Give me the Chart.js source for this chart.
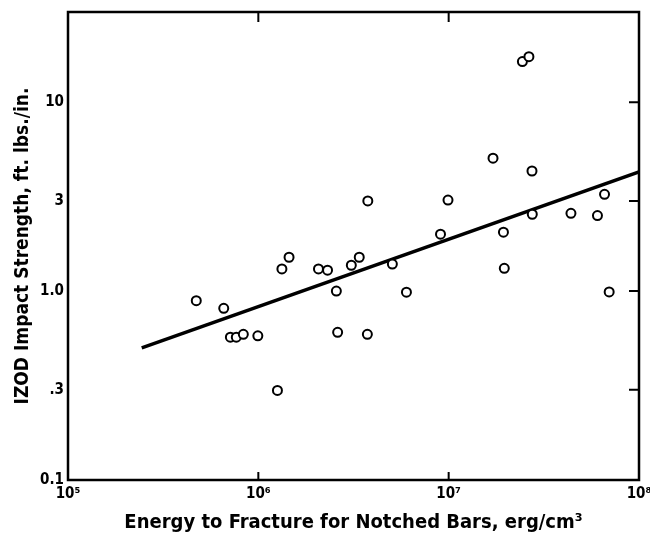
<!DOCTYPE html>
<html>
<head>
<meta charset="utf-8">
<script src="https://cdn.jsdelivr.net/npm/chart.js@4/dist/chart.umd.min.js"></script>
<style>
  html, body { margin: 0; padding: 0; background: #fff; }
  #wrap { width: 650px; height: 541px; position: relative; }
</style>
</head>
<body>
<div id="wrap"><canvas id="izodChart"></canvas></div>
<script>
// Energy to fracture (erg/cm3) vs IZOD impact strength (ft. lbs./in.)
const energy = [4.72e5, 6.58e5, 7.13e5, 7.66e5, 8.34e5, 9.94e5, 1.26e6, 1.33e6, 1.45e6, 2.07e6,
  2.31e6, 2.57e6, 2.61e6, 3.08e6, 3.39e6, 3.74e6, 3.76e6, 5.06e6, 6.0e6, 9.06e6,
  9.92e6, 1.71e7, 1.94e7, 1.96e7, 2.44e7, 2.64e7, 2.74e7, 2.75e7, 4.39e7, 6.05e7,
  6.59e7, 6.97e7];
const impact = [0.89, 0.81, 0.57, 0.57, 0.59, 0.58, 0.298, 1.31, 1.51, 1.31,
  1.29, 1.0, 0.605, 1.37, 1.51, 0.59, 3.0, 1.39, 0.986, 2.0,
  3.03, 5.05, 2.05, 1.32, 16.4, 17.4, 4.32, 2.55, 2.58, 2.51,
  3.25, 0.99];

// fitted line end points
const fitX = [2.44e5, 1e8];
const fitY = [0.50, 4.27];

const xTicks = [1e5, 1e6, 1e7, 1e8];
const xTickLabels = ["10\u2075", "10\u2076", "10\u2077", "10\u2078"];
const yTicks = [0.1, 0.3, 1, 3, 10];
const yTickLabels = ["0.1", ".3", "1.0", "3", "10"];

const FONT = "'DejaVu Sans Condensed', 'DejaVu Sans', sans-serif";

// frame and inward tick marks
const framePlugin = {
  id: "frame",
  afterDraw(chart) {
    const { ctx, chartArea: a, scales } = chart;
    ctx.save();
    ctx.strokeStyle = "#000";
    ctx.lineWidth = 2.5;
    ctx.strokeRect(a.left, a.top, a.right - a.left, a.bottom - a.top);
    ctx.lineWidth = 2;
    ctx.beginPath();
    [1e6, 1e7].forEach(v => {
      const px = scales.x.getPixelForValue(v);
      ctx.moveTo(px, a.bottom); ctx.lineTo(px, a.bottom - 8);
      ctx.moveTo(px, a.top); ctx.lineTo(px, a.top + 10);
    });
    [0.3, 1, 3, 10].forEach(v => {
      const py = scales.y.getPixelForValue(v);
      ctx.moveTo(a.right, py); ctx.lineTo(a.right - 10, py);
    });
    ctx.stroke();
    ctx.restore();
  }
};

new Chart(document.getElementById("izodChart"), {
  type: "scatter",
  data: {
    datasets: [{
      data: energy.map((x, i) => ({ x: x, y: impact[i] })),
      pointStyle: "circle",
      pointRadius: 4.5,
      pointBorderWidth: 2,
      pointBorderColor: "#000",
      pointBackgroundColor: "#fff"
    }, {
      type: "line",
      data: fitX.map((x, i) => ({ x: x, y: fitY[i] })),
      borderColor: "#000",
      borderWidth: 3.5,
      pointRadius: 0,
      fill: false
    }]
  },
  options: {
    responsive: true,
    maintainAspectRatio: false,
    animation: false,
    layout: { padding: { top: 12, right: 11, left: 8, bottom: 2 } },
    plugins: { legend: { display: false }, tooltip: { enabled: false } },
    scales: {
      x: {
        type: "logarithmic",
        min: 1e5,
        max: 1e8,
        afterBuildTicks: s => { s.ticks = xTicks.map(v => ({ value: v })); },
        afterFit: s => { s.height = 59; s.paddingLeft = 0; s.paddingRight = 0; },
        grid: { display: false, drawTicks: false },
        border: { display: false },
        ticks: {
          color: "#000",
          padding: 5,
          autoSkip: false,
          maxRotation: 0,
          font: { family: FONT, size: 15, weight: "bold" },
          callback: v => xTickLabels[xTicks.indexOf(v)]
        },
        title: {
          display: true,
          text: "Energy to Fracture for Notched Bars, erg/cm\u00b3",
          color: "#000",
          padding: { top: 8 },
          font: { family: FONT, size: 20, weight: "bold" }
        }
      },
      y: {
        type: "logarithmic",
        min: 0.1,
        max: 30,
        afterBuildTicks: s => { s.ticks = yTicks.map(v => ({ value: v })); },
        afterFit: s => { s.width = 60; s.paddingTop = 0; s.paddingBottom = 0; },
        grid: { display: false, drawTicks: false },
        border: { display: false },
        ticks: {
          color: "#000",
          padding: 4,
          autoSkip: false,
          font: { family: FONT, size: 15, weight: "bold" },
          callback: v => yTickLabels[yTicks.indexOf(v)]
        },
        title: {
          display: true,
          text: "IZOD Impact Strength, ft. lbs./in.",
          color: "#000",
          padding: { bottom: 2 },
          font: { family: FONT, size: 19, weight: "bold" }
        }
      }
    }
  },
  plugins: [framePlugin]
});
</script>
</body>
</html>
